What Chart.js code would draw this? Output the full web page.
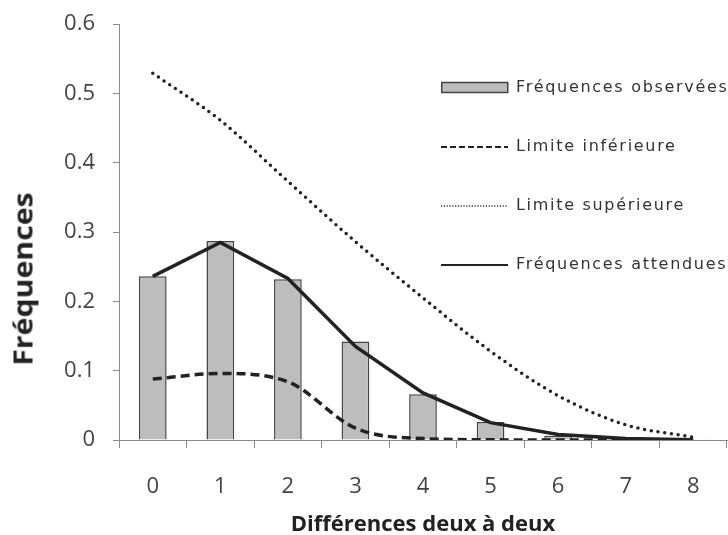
<!DOCTYPE html>
<html>
<head>
<meta charset="utf-8">
<script src="https://cdn.jsdelivr.net/npm/chart.js@4/dist/chart.umd.min.js"></script>
<style>
  body { margin: 0; background: #fff; overflow: hidden; }
  #wrap { position: relative; width: 728px; height: 535px; }
  #yTitle {
    position: absolute; left: 22px; top: 279px;
    transform: translate(-50%, -50%) rotate(-90deg) scaleX(1.12);
    font: bold 27px "Open Sans", sans-serif; color: #222; white-space: nowrap;
  }
  .legend { position: absolute; left: 441px; top: 0; }
  .legend .row { position: absolute; left: 0; height: 20px; width: 300px; white-space: nowrap; }
  .legend svg { position: absolute; left: 0; top: 0; }
  .legend span {
    position: absolute; left: 75px; top: -1px; letter-spacing: 1.7px;
    font: 16px "DejaVu Sans", sans-serif; color: #333; line-height: 20px;
  }
</style>
</head>
<body>
<div id="wrap">
  <canvas id="Chart" width="728" height="535"></canvas>
  <div id="yTitle">Fréquences</div>
  <div class="legend" id="legend"></div>
</div>
<script>
// data
const categories = ['0', '1', '2', '3', '4', '5', '6', '7', '8'];
const observed = [0.236, 0.287, 0.232, 0.142, 0.066, 0.026, 0.006, 0.001, 0.0003];
const lowerLimit = [0.088, 0.096, 0.084, 0.017, 0.002, 0.0003, 0, 0, 0];
const upperLimit = [0.529, 0.461, 0.373, 0.286, 0.205, 0.128, 0.064, 0.022, 0.004];
const expected = [0.236, 0.285, 0.233, 0.135, 0.068, 0.025, 0.008, 0.002, 0.0003];
const yTicks = [0, 0.1, 0.2, 0.3, 0.4, 0.5, 0.6];

const legendItems = [
    { label: 'Fréquences observées', kind: 'bar' },
    { label: 'Limite inférieure', kind: 'dash' },
    { label: 'Limite supérieure', kind: 'dot' },
    { label: 'Fréquences attendues', kind: 'solid' }
];

// legend drawn on top of the plot, like the original
const legendRows = [88, 147, 206, 265];
let html = '';
legendItems.forEach(function(item, i) {
    let sw = '';
    if (item.kind == 'bar') {
        sw = "<rect x='0.75' y='4.5' width='66' height='10' fill='#bcbebd' stroke='#444' stroke-width='1.5'/>";
    } else if (item.kind == 'dash') {
        sw = "<line x1='0' y1='10' x2='67' y2='10' stroke='#222' stroke-width='2' stroke-dasharray='6 3'/>";
    } else if (item.kind == 'dot') {
        sw = "<line x1='0' y1='10' x2='67' y2='10' stroke='#333' stroke-width='1.5' stroke-dasharray='1.2 1.6'/>";
    } else {
        sw = "<line x1='0' y1='10' x2='67' y2='10' stroke='#222' stroke-width='2'/>";
    }
    html += "<div class='row' style='top:" + (legendRows[i] - 10) + "px'>" +
        "<svg width='68' height='20'>" + sw + "</svg><span>" + item.label + "</span></div>";
});
document.getElementById('legend').innerHTML = html;

const axisColor = '#8a8a8a';
const tickFont = { family: 'Open Sans', size: 22 };

var ctx = document.getElementById('Chart').getContext('2d');
const myChart = new Chart(ctx, {
    type: 'bar',
    data: {
        labels: categories,
        datasets: [{
            type: 'line',
            label: legendItems[3].label,
            data: expected,
            borderColor: '#222',
            borderWidth: 3.5,
            pointRadius: 0,
            tension: 0,
            order: 1
        }, {
            type: 'line',
            label: legendItems[1].label,
            data: lowerLimit,
            borderColor: '#222',
            borderWidth: 3.5,
            borderDash: [9, 5],
            pointRadius: 0,
            cubicInterpolationMode: 'monotone',
            order: 1
        }, {
            type: 'line',
            label: legendItems[2].label,
            data: upperLimit,
            borderColor: '#222',
            borderWidth: 3.5,
            borderDash: [0, 6.8],
            borderCapStyle: 'round',
            pointRadius: 0,
            cubicInterpolationMode: 'monotone',
            order: 1
        }, {
            label: legendItems[0].label,
            data: observed,
            backgroundColor: '#bcbebd',
            borderColor: '#444',
            borderWidth: 1.5,
            barPercentage: 0.41,
            categoryPercentage: 1,
            order: 2
        }]
    },
    options: {
        responsive: false,
        animation: false,
        layout: { padding: { top: 24, right: 1, left: 0, bottom: 0 } },
        plugins: {
            legend: { display: false },
            tooltip: { enabled: false }
        },
        scales: {
            x: {
                offset: true,
                grid: { offset: true, drawOnChartArea: false, color: axisColor, tickLength: 8 },
                border: { color: axisColor, width: 1 },
                ticks: { color: '#444', font: tickFont, padding: 26 },
                title: {
                    display: true,
                    text: 'Différences deux à deux',
                    color: '#222',
                    font: { family: 'Open Sans', size: 22, weight: 'bold' },
                    padding: { top: 0, bottom: -3 }
                },
                afterFit: function(s) { s.height = 95; }
            },
            y: {
                min: 0,
                max: 0.6,
                grid: { drawOnChartArea: false, color: axisColor, tickLength: 6 },
                border: { color: axisColor, width: 1 },
                afterBuildTicks: function(s) { s.ticks = yTicks.map(function(v) { return { value: v }; }); },
                ticks: {
                    color: '#444',
                    font: tickFont,
                    padding: 18,
                    callback: function(v) { return String(Math.round(v * 10) / 10); }
                },
                afterFit: function(s) { s.width = 119; s.paddingTop = 0; s.paddingBottom = 0; }
            }
        }
    }
});
</script>
</body>
</html>
